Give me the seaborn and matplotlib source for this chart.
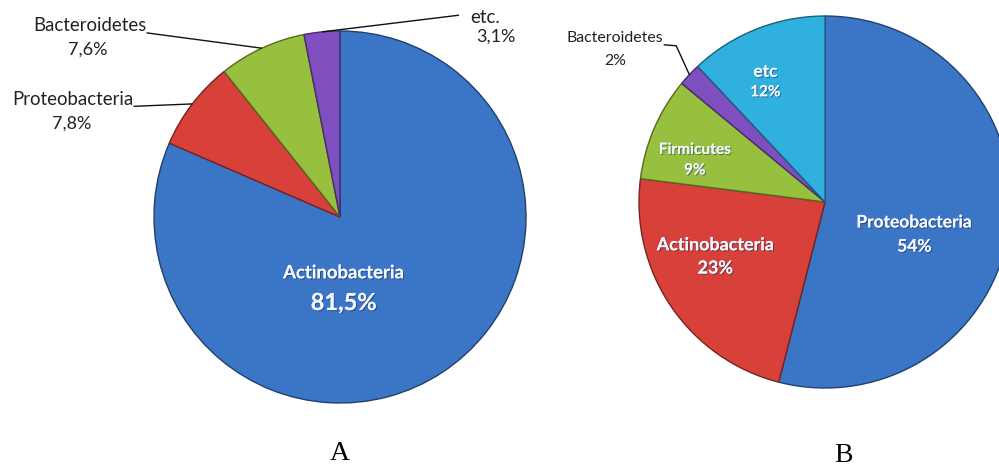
import matplotlib
matplotlib.use("Agg")
import matplotlib.pyplot as plt
import matplotlib.patheffects as pe
import numpy as np
import seaborn as sns

# ---------------- data ----------------
labels_a = ["Actinobacteria", "Proteobacteria", "Bacteroidetes", "etc."]
values_a = [81.5, 7.8, 7.6, 3.1]
pct_a = ["81,5%", "7,8%", "7,6%", "3,1%"]

labels_b = ["Proteobacteria", "Actinobacteria", "Firmicutes", "Bacteroidetes", "etc"]
values_b = [54, 23, 9, 2, 12]
pct_b = ["54%", "23%", "9%", "2%", "12%"]

panel_titles = ["A", "B"]

# ---------------- style ----------------
sns.set_theme(style="white")
plt.rcParams["font.family"] = ["Lato", "DejaVu Sans"]

col_blue, col_red, col_green, col_purple, col_cyan = sns.color_palette(
    ["#3b76c6", "#d8403a", "#97c03f", "#7f4fc0", "#2fb0df"])
colors_a = [col_blue, col_red, col_green, col_purple]
colors_b = [col_blue, col_red, col_green, col_purple, col_cyan]

W, H = 999, 468
fig = plt.figure(figsize=(W / 100, H / 100), dpi=100)
fig.patch.set_facecolor("white")


def pie_axes(cx, cy, r):
    return fig.add_axes([(cx - r) / W, (H - (cy + r)) / H, 2 * r / W, 2 * r / H])


def darker(c, f=0.6):
    return tuple(np.array(c[:3]) * f)


def draw_pie(ax, values, colors):
    wedges, _ = ax.pie(values, colors=colors, startangle=90, counterclock=False,
                       radius=1.0, wedgeprops=dict(linewidth=1.0))
    for w, c in zip(wedges, colors):
        w.set_edgecolor(darker(c, 0.55))
    ax.set_xlim(-1, 1)
    ax.set_ylim(-1, 1)
    ax.set_axis_off()
    return wedges


def edge_point(w, r=1.0):
    mid = np.deg2rad((w.theta1 + w.theta2) / 2)
    return r * np.cos(mid), r * np.sin(mid)


shadow = [pe.withSimplePatchShadow(offset=(0.8, -0.8), shadow_rgbFace="#1a2a40", alpha=0.5),
          pe.Normal()]
txt_white = "#f2f6ff"
txt_dark = "#222222"

# ---------------- Pie A ----------------
axA = pie_axes(340, 217, 186)
wA = draw_pie(axA, values_a, colors_a)

axA.text(0.02, -0.30, labels_a[0], ha="center", va="center", fontsize=13.3,
         fontweight="bold", color=txt_white, path_effects=shadow)
axA.text(0.02, -0.46, pct_a[0], ha="center", va="center", fontsize=17,
         fontweight="bold", color=txt_white, path_effects=shadow)

# outside labels (text anchor, pct anchor, leader start)
out_a = {
    1: ((-1.11, 0.63), (-1.44, 0.50), [(-1.11, 0.595)]),
    2: ((-1.04, 1.03), (-1.355, 0.90), [(-1.04, 0.99)]),
    3: ((0.70, 1.07), (0.84, 0.97), [(0.64, 1.085)]),
}
for i, (tpos, ppos, lead) in out_a.items():
    ha = "right" if tpos[0] < 0 else "left"
    axA.text(tpos[0], tpos[1], labels_a[i], ha=ha, va="center", fontsize=13.4, color=txt_dark)
    axA.text(ppos[0], ppos[1], pct_a[i], ha="center", va="center", fontsize=13, color=txt_dark)
    ex, ey = edge_point(wA[i], 1.0)
    pts = lead + [(ex, ey)]
    axA.plot([p[0] for p in pts], [p[1] for p in pts], color="#111111", lw=1.0,
             clip_on=False, solid_capstyle="butt")

# ---------------- Pie B ----------------
axB = pie_axes(825, 202, 186)
wB = draw_pie(axB, values_b, colors_b)

inner_b = {
    0: ((0.48, -0.11), (0.48, -0.24), 12.5, 12.5),
    1: ((-0.59, -0.23), (-0.59, -0.355), 12.9, 12.9),
    2: ((-0.70, 0.28), (-0.70, 0.17), 11.1, 11),
    4: ((-0.32, 0.70), (-0.32, 0.59), 12.5, 11),
}
for i, (tpos, ppos, fs1, fs2) in inner_b.items():
    axB.text(tpos[0], tpos[1], labels_b[i], ha="center", va="center", fontsize=fs1,
             fontweight="bold", color=txt_white, path_effects=shadow)
    axB.text(ppos[0], ppos[1], pct_b[i], ha="center", va="center", fontsize=fs2,
             fontweight="bold", color=txt_white, path_effects=shadow)

axB.text(-0.87, 0.88, labels_b[3], ha="right", va="center", fontsize=11.4, color=txt_dark)
axB.text(-1.13, 0.76, pct_b[3], ha="center", va="center", fontsize=11.4, color=txt_dark)
ex, ey = edge_point(wB[3], 1.0)
axB.plot([-0.865, -0.80, ex], [0.845, 0.84, ey], color="#111111", lw=1.0, clip_on=False)

# ---------------- panel letters ----------------
fig.text(340 / W, 1 - 453 / H, panel_titles[0], ha="center", va="center",
         fontsize=20, family=["Liberation Serif", "DejaVu Serif"], color="black")
fig.text(843 / W, 1 - 455 / H, panel_titles[1], ha="center", va="center",
         fontsize=20, family=["Liberation Serif", "DejaVu Serif"], color="black")

fig.savefig("out.png", dpi=100, facecolor="white")
